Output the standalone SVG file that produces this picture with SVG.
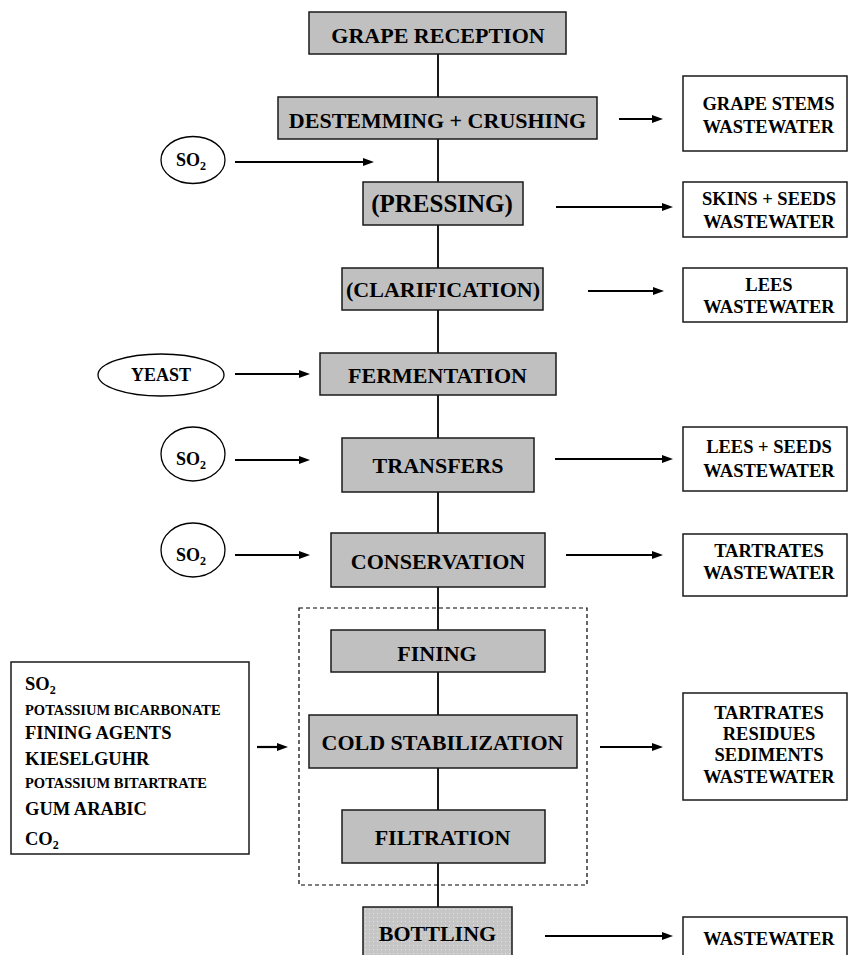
<svg xmlns="http://www.w3.org/2000/svg" width="848" height="955" viewBox="0 0 848 955">
<style>
.t{font-family:"Liberation Serif","Times New Roman",serif;font-weight:bold;fill:#000}
.m{font-size:22px;text-anchor:middle}
.r{font-size:18.5px;text-anchor:middle}
.s{font-size:14.5px}
.l{font-size:18.5px}
.box{fill:#c0c0c0;stroke:#1a1a1a;stroke-width:1.5}
.out{fill:#fff;stroke:#1a1a1a;stroke-width:1.5}
.ell{fill:#fff;stroke:#000;stroke-width:1.3}
.arr{stroke:#000;stroke-width:2.2;fill:none;marker-end:url(#ah)}
.ln{stroke:#000;stroke-width:1.8;fill:none}
.sub{font-size:12px}
</style>
<defs>
<marker id="ah" markerUnits="userSpaceOnUse" markerWidth="11" markerHeight="9" refX="4" refY="4" orient="auto">
<path d="M0,0 L11,4 L0,8 z" fill="#000"/>
</marker>
<pattern id="dots" width="4" height="4" patternUnits="userSpaceOnUse">
<rect width="4" height="4" fill="#c6c6c6"/>
<rect x="1" y="1" width="1" height="1" fill="#e2e2e2"/>
</pattern>
</defs>
<rect width="848" height="955" fill="#fff"/>

<g id="connectors">
<line class="ln" x1="438" y1="54" x2="438" y2="910"/>
<rect x="299" y="608" width="288" height="277" fill="none" stroke="#000" stroke-width="1.2" stroke-dasharray="4,3"/>
<line class="arr" x1="619" y1="119" x2="656" y2="119"/>
<line class="arr" x1="556" y1="207" x2="666" y2="207"/>
<line class="arr" x1="588" y1="291" x2="657" y2="291"/>
<line class="arr" x1="555" y1="459" x2="666" y2="459"/>
<line class="arr" x1="566" y1="555" x2="656" y2="555"/>
<line class="arr" x1="600" y1="747" x2="656" y2="747"/>
<line class="arr" x1="545" y1="936" x2="666" y2="936"/>
<line class="arr" x1="235" y1="162" x2="367" y2="162"/>
<line class="arr" x1="235" y1="374" x2="303" y2="374"/>
<line class="arr" x1="235" y1="460" x2="303" y2="460"/>
<line class="arr" x1="235" y1="555" x2="303" y2="555"/>
<line class="arr" x1="257" y1="747" x2="281" y2="747"/>
</g>

<g id="grape-reception"><rect class="box" x="309" y="12" width="257" height="42"/><text class="t m" x="438" y="42.5">GRAPE RECEPTION</text></g>
<g id="destemming"><rect class="box" x="278" y="97" width="319" height="42"/><text class="t m" x="437.5" y="128">DESTEMMING + CRUSHING</text></g>
<g id="pressing"><rect class="box" x="363" y="182" width="160" height="43"/><text class="t" x="442" y="212" font-size="25" text-anchor="middle">(PRESSING)</text></g>
<g id="clarification"><rect class="box" x="342" y="268" width="201" height="42"/><text class="t m" x="443" y="297">(CLARIFICATION)</text></g>
<g id="fermentation"><rect class="box" x="320" y="353" width="236" height="42"/><text class="t m" x="437.5" y="383">FERMENTATION</text></g>
<g id="transfers"><rect class="box" x="342" y="438" width="192" height="54"/><text class="t m" x="438" y="473">TRANSFERS</text></g>
<g id="conservation"><rect class="box" x="331" y="533" width="214" height="54"/><text class="t m" x="438" y="569">CONSERVATION</text></g>
<g id="fining"><rect class="box" x="331" y="630" width="214" height="42"/><text class="t m" x="437" y="660.5">FINING</text></g>
<g id="cold-stabilization"><rect class="box" x="309" y="715" width="268" height="53"/><text class="t m" x="442.5" y="750">COLD STABILIZATION</text></g>
<g id="filtration"><rect class="box" x="342" y="810" width="203" height="53"/><text class="t m" x="442.5" y="845">FILTRATION</text></g>
<g id="bottling"><rect x="363" y="907" width="149" height="60" fill="url(#dots)" stroke="#1a1a1a" stroke-width="1.5"/><text class="t m" x="437.5" y="940.5">BOTTLING</text></g>

<g id="out-grape-stems"><rect class="out" x="683" y="76" width="164" height="75"/><text class="t r" x="768.5" y="110">GRAPE STEMS</text><text class="t r" x="768.5" y="133">WASTEWATER</text></g>
<g id="out-skins"><rect class="out" x="683" y="182" width="164" height="55"/><text class="t r" x="769" y="205">SKINS + SEEDS</text><text class="t r" x="769" y="228">WASTEWATER</text></g>
<g id="out-lees"><rect class="out" x="683" y="268" width="164" height="54"/><text class="t r" x="769" y="291">LEES</text><text class="t r" x="769" y="313">WASTEWATER</text></g>
<g id="out-lees-seeds"><rect class="out" x="683" y="427" width="164" height="64"/><text class="t r" x="769" y="453">LEES + SEEDS</text><text class="t r" x="769" y="477">WASTEWATER</text></g>
<g id="out-tartrates"><rect class="out" x="683" y="534" width="164" height="62"/><text class="t r" x="769" y="557">TARTRATES</text><text class="t r" x="769" y="579">WASTEWATER</text></g>
<g id="out-tartrates-residues"><rect class="out" x="683" y="693" width="164" height="107"/><text class="t r" x="769" y="719">TARTRATES</text><text class="t r" x="769" y="740">RESIDUES</text><text class="t r" x="769" y="761">SEDIMENTS</text><text class="t r" x="769" y="783">WASTEWATER</text></g>
<g id="out-wastewater"><rect class="out" x="683" y="917" width="164" height="50"/><text class="t r" x="769" y="945">WASTEWATER</text></g>

<g id="in-so2-1"><ellipse class="ell" cx="193" cy="160" rx="32" ry="23.5"/><text class="t" x="191" y="166" font-size="18" text-anchor="middle">SO<tspan class="sub" dy="4">2</tspan></text></g>
<g id="in-yeast"><ellipse class="ell" cx="161" cy="375" rx="63" ry="21"/><text class="t" x="161" y="381" font-size="18" text-anchor="middle">YEAST</text></g>
<g id="in-so2-2"><ellipse class="ell" cx="193" cy="454" rx="32" ry="27"/><text class="t" x="191" y="465" font-size="18" text-anchor="middle">SO<tspan class="sub" dy="4">2</tspan></text></g>
<g id="in-so2-3"><ellipse class="ell" cx="193" cy="550" rx="32" ry="27"/><text class="t" x="191" y="561" font-size="18" text-anchor="middle">SO<tspan class="sub" dy="4">2</tspan></text></g>

<g id="additives">
<rect class="out" x="11" y="662" width="238" height="192"/>
<text class="t l" x="25" y="690">SO<tspan class="sub" dy="4">2</tspan></text>
<text class="t s" x="25" y="715">POTASSIUM BICARBONATE</text>
<text class="t l" x="25" y="739">FINING AGENTS</text>
<text class="t l" x="25" y="765">KIESELGUHR</text>
<text class="t s" x="25" y="788">POTASSIUM BITARTRATE</text>
<text class="t l" x="25" y="815">GUM ARABIC</text>
<text class="t l" x="25" y="845">CO<tspan class="sub" dy="4">2</tspan></text>
</g>
</svg>
